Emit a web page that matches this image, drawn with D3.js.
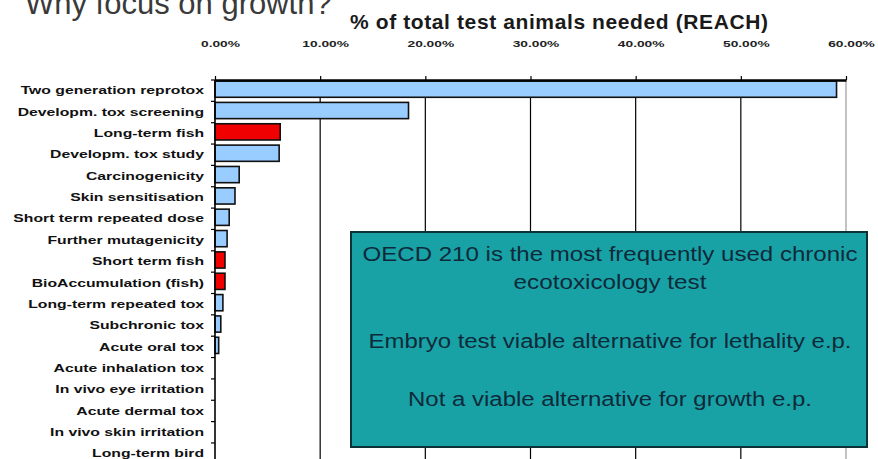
<!DOCTYPE html>
<html>
<head>
<meta charset="utf-8">
<script src="https://cdn.jsdelivr.net/npm/d3@7"></script>
<style>
  body { margin: 0; background: #fff; }
  svg { display: block; font-family: "Liberation Sans", Arial, sans-serif; }
</style>
</head>
<body>
<div id="chart"></div>
<script>

var categories = [
  "Two generation reprotox",
  "Developm. tox screening",
  "Long-term fish",
  "Developm. tox study",
  "Carcinogenicity",
  "Skin sensitisation",
  "Short term repeated dose",
  "Further mutagenicity",
  "Short term fish",
  "BioAccumulation  (fish)",
  "Long-term  repeated tox",
  "Subchronic tox",
  "Acute oral tox",
  "Acute inhalation  tox",
  "In vivo eye irritation",
  "Acute dermal tox",
  "In vivo skin irritation",
  "Long-term  bird"
];

// % of total test animals
var values = [59.1, 18.4, 6.2, 6.1, 2.3, 1.9, 1.35, 1.15, 0.95, 0.95, 0.75, 0.55, 0.35, 0, 0, 0, 0, 0];

// the fish tests are shown in red
var fishTests = ["Long-term fish", "Short term fish", "BioAccumulation  (fish)"];

var tickValues = [0, 10, 20, 30, 40, 50, 60];

var boxLines = [
  "OECD 210 is the most frequently used chronic",
  "ecotoxicology test",
  "Embryo test viable alternative for lethality e.p.",
  "Not a viable alternative for growth e.p."
];

var width = 878, height = 459;

var svg = d3.select("#chart")
  .append("svg")
  .attr("width", width)
  .attr("height", height);

var x = d3.scaleLinear()
  .domain([0, 60])
  .range([215, 846]);

var y = d3.scaleBand()
  .domain(categories)
  .range([80, 80 + categories.length * 21.35])
  .paddingInner(0.24)
  .paddingOuter(0.12);

var step = y.step();

// gridlines
svg.append("g")
  .selectAll("line")
  .data(tickValues.slice(1))
  .enter().append("line")
  .attr("x1", function(d) { return x(d); })
  .attr("x2", function(d) { return x(d); })
  .attr("y1", 80)
  .attr("y2", height + 10)
  .attr("stroke", function(d) { return d == 60 ? "#9a9a9a" : "#000"; })
  .attr("stroke-width", 1.2);

// bars
svg.append("g")
  .selectAll("rect")
  .data(categories)
  .enter().append("rect")
  .attr("x", x(0))
  .attr("y", function(d) { return y(d) - 1.5; })
  .attr("height", y.bandwidth())
  .attr("width", function(d, i) { return x(values[i]) - x(0); })
  .attr("fill", function(d) { return fishTests.indexOf(d) >= 0 ? "#f00000" : "#99ccff"; })
  .attr("stroke", "#111")
  .attr("stroke-width", 1.6)
  .style("display", function(d, i) { return values[i] > 0 ? null : "none"; });

// top axis
var xAxis = svg.append("g")
  .attr("transform", "translate(0,80)")
  .call(d3.axisTop(x)
    .tickValues(tickValues)
    .tickSize(4)
    .tickSizeOuter(0)
    .tickFormat(function(d) { return d.toFixed(2) + "%"; }));

xAxis.select(".domain").attr("stroke-width", 2.5);
xAxis.selectAll(".tick line").attr("stroke-width", 1.2);
xAxis.selectAll(".tick text")
  .attr("y", 0)
  .attr("dy", 0)
  .attr("transform", "translate(5,-33) scale(1.45,1)")
  .attr("font-size", "9.5px")
  .attr("font-weight", "bold")
  .attr("fill", "#222");

// left axis
var yAxis = svg.append("g")
  .attr("transform", "translate(" + x(0) + ",0)")
  .call(d3.axisLeft(y).tickSize(0).tickSizeOuter(0));

yAxis.select(".domain")
  .attr("d", "M0,80V" + (height + 10))
  .attr("stroke-width", 1.6);

yAxis.selectAll(".tick text")
  .attr("x", 0)
  .attr("dy", "0.35em")
  .attr("transform", "translate(-11,0) scale(1.5,1)")
  .attr("font-size", "10.5px")
  .attr("font-weight", "bold")
  .attr("fill", "#111");

// boundary ticks on the category axis
svg.append("g")
  .selectAll("line")
  .data(d3.range(categories.length + 1))
  .enter().append("line")
  .attr("x1", x(0) - 4)
  .attr("x2", x(0))
  .attr("y1", function(i) { return 80 + i * step; })
  .attr("y2", function(i) { return 80 + i * step; })
  .attr("stroke", "#000")
  .attr("stroke-width", 1.2);

// titles
svg.append("text")
  .attr("x", 25)
  .attr("y", 14)
  .attr("font-size", "31px")
  .attr("fill", "#3a3a3a")
  .text("Why focus on growth?");

svg.append("text")
  .attr("x", 559)
  .attr("y", 29)
  .attr("text-anchor", "middle")
  .attr("font-size", "21px")
  .attr("font-weight", "bold")
  .attr("fill", "#1a1a1a")
  .attr("textLength", 418)
  .text("% of total test animals needed (REACH)");

// annotation box
var box = svg.append("g");

box.append("rect")
  .attr("x", 351)
  .attr("y", 232)
  .attr("width", 516)
  .attr("height", 215)
  .attr("fill", "#18a2a6")
  .attr("stroke", "#0c3236")
  .attr("stroke-width", 2);

var lineY = [261, 289, 348, 406];
var lineW = [495, 193, 483, 404];

box.selectAll("text")
  .data(boxLines)
  .enter().append("text")
  .attr("x", 610)
  .attr("y", function(d, i) { return lineY[i]; })
  .attr("text-anchor", "middle")
  .attr("font-size", "20px")
  .attr("fill", "#0e2a3a")
  .attr("textLength", function(d, i) { return lineW[i]; })
  .attr("lengthAdjust", "spacingAndGlyphs")
  .text(function(d) { return d; });

</script>
</body>
</html>
